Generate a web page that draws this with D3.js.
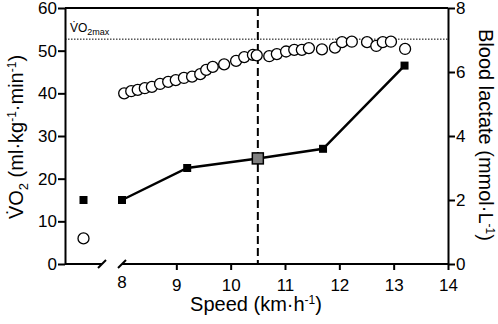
<!DOCTYPE html>
<html>
<head>
<meta charset="utf-8">
<title>VO2 and lactate</title>
<style>
  body { margin: 0; background: #fff; }
  text { font-family: "Liberation Sans", Arial, sans-serif; fill: #000; }
</style>
</head>
<body>
<script src="https://cdn.jsdelivr.net/npm/d3@7"></script>
<script>
var width = 498, height = 324;

// VO2 per breath average (speed km/h, ml/kg/min)
var vo2Speed = [8.04, 8.17, 8.29, 8.42, 8.55, 8.70, 8.85, 8.99, 9.14, 9.29, 9.44, 9.55, 9.67,
                9.88, 10.10, 10.25, 10.41, 10.48, 10.71, 10.85, 11.02, 11.17, 11.31, 11.44,
                11.68, 11.92, 12.05, 12.23, 12.51, 12.68, 12.80, 12.95, 13.21];
var vo2Values = [40.0, 40.5, 40.8, 41.2, 41.5, 42.2, 42.7, 43.1, 43.6, 43.9, 44.5, 45.5, 46.2,
                 46.8, 47.6, 48.5, 49.0, 48.9, 48.7, 49.2, 49.8, 50.2, 50.2, 50.6,
                 50.3, 50.7, 52.0, 52.1, 52.0, 51.1, 52.0, 52.1, 50.4];
// lactate at each stage
var lacSpeed = [8.0, 9.2, 10.5, 11.7, 13.2];
var lacValues = [2.0, 3.0, 3.3, 3.6, 6.2];
// resting values (before the axis break)
var restVo2 = 6.0;
var restLac = 2.0;
var vo2max = 52.7;
var thresholdSpeed = 10.5;

var xTicks = [8, 9, 10, 11, 12, 13, 14];
var yTicks = [0, 10, 20, 30, 40, 50, 60];
var y2Ticks = [0, 2, 4, 6, 8];

// plot box (window.top is read-only, so no "top" here)
var pL = 65, pR = 448, pT = 8, pB = 264;
var breakL = 102, breakR = 122;

var svg = d3.select("body").append("svg")
  .attr("width", width).attr("height", height);

var x = d3.scaleLinear().domain([8, 14]).range([breakR, pR]);
var xRest = d3.scaleLinear().domain([0, 1]).range([pL, breakL]);
var y = d3.scaleLinear().domain([0, 60]).range([pB, pT]);
var y2 = d3.scaleLinear().domain([0, 8]).range([pB, pT]);

// top frame line
svg.append("line").attr("x1", pL).attr("x2", pR).attr("y1", pT).attr("y2", pT)
  .attr("stroke", "#000").attr("stroke-width", 2);

// VO2max dotted line
svg.append("line").attr("x1", pL).attr("x2", pR)
  .attr("y1", y(vo2max)).attr("y2", y(vo2max))
  .attr("stroke", "#000").attr("stroke-width", 1).attr("stroke-dasharray", "1.5,1.5");

var lab = svg.append("text").attr("x", 70).attr("y", 32).style("font-size", "12px");
lab.append("tspan").text("V\u0307O");
lab.append("tspan").attr("dy", 3).style("font-size", "9px").text("2max");

// threshold dashed line
svg.append("line").attr("x1", x(thresholdSpeed)).attr("x2", x(thresholdSpeed))
  .attr("y1", pT).attr("y2", pB)
  .attr("stroke", "#000").attr("stroke-width", 2).attr("stroke-dasharray", "8,4");

// x axis (broken)
var xAxis = svg.append("g").attr("transform", "translate(0," + pB + ")")
  .call(d3.axisBottom(x).tickValues(xTicks.slice(1)).tickSize(6).tickFormat(d3.format("d")));
xAxis.select(".domain").remove();
xAxis.append("line").attr("x1", breakR).attr("x2", pR).attr("stroke", "#000").attr("stroke-width", 2);
xAxis.append("line").attr("x1", pL).attr("x2", breakL).attr("stroke", "#000").attr("stroke-width", 2);
[breakL, breakR].forEach(function(bx) {
  xAxis.append("line").attr("x1", bx - 4).attr("x2", bx + 4).attr("y1", 4).attr("y2", -4)
    .attr("stroke", "#000").attr("stroke-width", 2);
});
xAxis.append("text").attr("x", x(xTicks[0])).attr("y", 6).attr("dy", "1.05em")
  .attr("text-anchor", "middle").style("font-size", "17px").text(xTicks[0]);

var yAxis = svg.append("g").attr("transform", "translate(" + pL + ",0)")
  .call(d3.axisLeft(y).tickValues(yTicks).tickSize(7).tickSizeOuter(0));
var y2Axis = svg.append("g").attr("transform", "translate(" + pR + ",0)")
  .call(d3.axisRight(y2).tickValues(y2Ticks).tickSize(7).tickSizeOuter(0));

[xAxis, yAxis, y2Axis].forEach(function(g) {
  g.selectAll(".domain").attr("stroke-width", 2);
  g.selectAll(".tick line").attr("stroke-width", 2);
  g.selectAll(".tick text").style("font-size", "17px").attr("fill", "#000")
    .style("font-family", "'Liberation Sans', Arial, sans-serif");
});
xAxis.selectAll(".tick text").attr("dy", "1.05em");
yAxis.selectAll(".tick text").attr("x", -8);
y2Axis.selectAll(".tick text").attr("x", 8);

// axis titles
var xt = svg.append("text").attr("x", 256).attr("y", 311).attr("text-anchor", "middle")
  .style("font-size", "20px");
xt.append("tspan").text("Speed (km\u00b7h");
xt.append("tspan").attr("dy", -7).style("font-size", "12px").text("-1");
xt.append("tspan").attr("dy", 7).text(")");

var yt = svg.append("text").attr("transform", "translate(23,137) rotate(-90)")
  .attr("text-anchor", "middle").style("font-size", "20px");
yt.append("tspan").text("V\u0307O");
yt.append("tspan").attr("dy", 5).style("font-size", "13px").text("2");
yt.append("tspan").attr("dy", -5).text(" (ml\u00b7kg");
yt.append("tspan").attr("dy", -7).style("font-size", "12px").text("-1");
yt.append("tspan").attr("dy", 7).text("\u00b7min");
yt.append("tspan").attr("dy", -7).style("font-size", "12px").text("-1");
yt.append("tspan").attr("dy", 7).text(")");

var y2t = svg.append("text").attr("transform", "translate(479,135) rotate(90)")
  .attr("text-anchor", "middle").style("font-size", "20px");
y2t.append("tspan").text("Blood lactate (mmol\u00b7L");
y2t.append("tspan").attr("dy", -7).style("font-size", "12px").text("-1");
y2t.append("tspan").attr("dy", 7).text(")");

// VO2 circles
svg.append("g").selectAll("circle")
  .data(vo2Speed.map(function(s, i) { return [x(s), y(vo2Values[i])]; })
    .concat([[xRest(0.5), y(restVo2)]]))
  .enter().append("circle")
  .attr("cx", function(d) { return d[0]; })
  .attr("cy", function(d) { return d[1]; })
  .attr("r", 5.5)
  .attr("fill", "#fff").attr("stroke", "#000").attr("stroke-width", 1.3);

// lactate line and squares
var lacPts = lacSpeed.map(function(s, i) { return [x(s), y2(lacValues[i]), s]; });
svg.append("path")
  .attr("d", d3.line()(lacPts.map(function(p) { return [p[0], p[1]]; })))
  .attr("fill", "none").attr("stroke", "#000").attr("stroke-width", 2.5);

lacPts.concat([[xRest(0.5), y2(restLac), 0]]).forEach(function(p) {
  var big = p[2] === thresholdSpeed;
  var s = big ? 11 : 8;
  svg.append("rect")
    .attr("x", p[0] - s / 2).attr("y", p[1] - s / 2)
    .attr("width", s).attr("height", s)
    .attr("fill", big ? "#808080" : "#000")
    .attr("stroke", "#000").attr("stroke-width", big ? 1.5 : 0);
});
</script>
</body>
</html>
